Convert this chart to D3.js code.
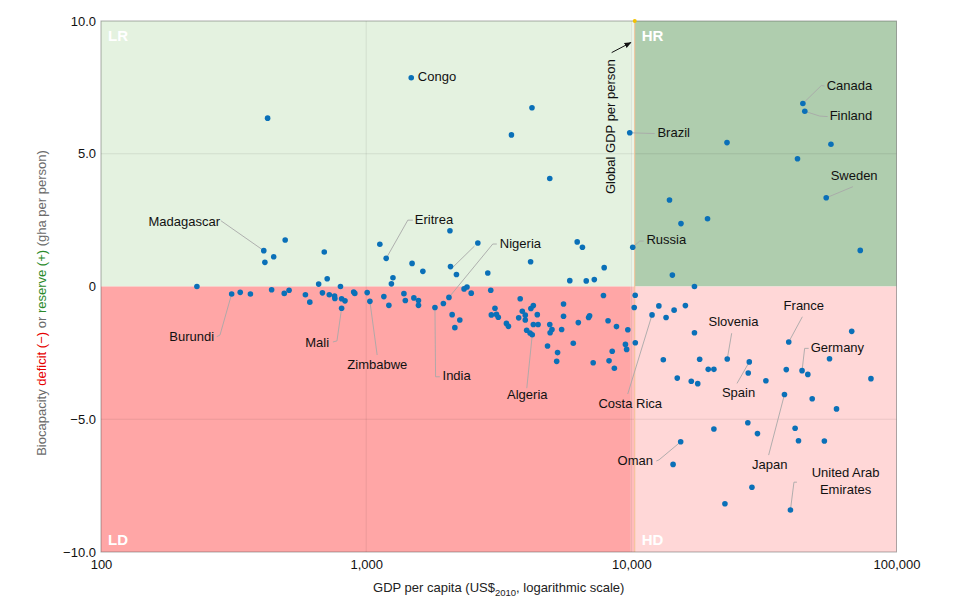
<!DOCTYPE html>
<html><head><meta charset="utf-8">
<script src="https://cdn.jsdelivr.net/npm/d3@7"></script>
<style>
body{margin:0;background:#fff}
svg{display:block}
text{font-family:"Liberation Sans",Arial,Helvetica,sans-serif}
</style>
</head><body>
<svg id="c" width="964" height="610"></svg>
<script>
// ---------- data ----------
const gdp = [1479,425,411,415,448,495,695,713,662,800,1126,1190,1490,1262,1245,230,1636,2070,2080,2190,2637,2875,4220,3530,4925,4170,6250,6540,7900,5860,6760,7250,2340,2400,9862,10122,
22950,44350,45100,56600,42330,54320,13930,15390,19380,73000,14280,17300,
311,335,366,440,491,512,590,613,684,726,760,762,808,832,808,897,906,1009,1033,1166,1218,1388,1405,1513,1575,1575,1817,1955,2052,2110,2255,2160,2490,2950,3060,2965,3100,3150,3380,3440,3810,3880,3760,3981,3981,4180,4270,4420,4030,4150,4230,4270,4450,4925,5020,4940,4830,5270,5230,5550,5550,5460,6040,6310,6900,6960,7180,7850,8170,8790,8470,8240,8630,9700,9500,9600,10350,10340,10255,
12700,11970,13520,14500,15990,17300,23000,13200,18100,19500,20480,14900,16830,17800,27850,27600,32170,39230,38400,44040,46300,55900,67780,80100,37800,48100,59400,27500,29900,20480,41460,42700,53450,15350,14370,28500,22540,39811];
const biocap = [7.86,6.34,1.35,0.91,1.12,1.75,1.30,0.29,0.09,0.00,1.59,1.06,0.87,0.33,0.10,0.00,0.57,2.10,0.75,0.45,1.64,0.51,6.73,5.71,4.07,0.93,1.68,1.48,0.71,0.22,0.21,0.26,-0.09,-0.02,5.79,1.48,
5.42,6.89,6.60,5.36,4.81,3.34,3.26,2.37,2.55,1.36,0.43,0.00,
-0.28,-0.22,-0.28,-0.12,-0.26,-0.14,-0.31,-0.59,-0.24,-0.31,-0.36,-0.45,-0.46,-0.54,-0.82,-0.21,-0.26,-0.23,-0.56,-0.38,-0.71,-0.27,-0.53,-0.43,-0.53,-0.71,-0.79,-0.64,-0.41,-1.06,-1.26,-1.55,-0.25,-0.14,-0.82,-1.07,-1.05,-1.16,-1.39,-1.50,-0.46,-0.93,-1.18,-1.08,-1.26,-0.83,-0.72,-1.06,-1.65,-1.75,-1.82,-1.43,-1.43,-1.43,-1.62,-1.74,-2.24,-2.49,-2.82,-0.66,-1.12,-1.62,-2.14,-1.36,-1.17,-1.10,-2.87,-0.34,-1.29,-1.51,-2.44,-2.80,-3.08,-1.63,-2.18,-2.37,-2.12,-0.33,-0.79,
-0.73,-1.07,-1.17,-0.89,-0.72,-1.74,-2.73,-2.76,-2.74,-3.12,-3.12,-3.45,-3.57,-3.66,-2.84,-3.26,-3.55,-2.09,-3.13,-3.17,-3.31,-2.72,-1.69,-3.47,-4.07,-4.23,-4.61,-5.13,-5.54,-5.37,-5.34,-5.81,-5.82,-5.85,-6.70,-7.56,-8.18,-8.42];

const globalGDP = 10300;
const xTicks = [100,1000,10000,100000];
const xTickLabels = ["100","1,000","10,000","100,000"];
const yTicks = [-10,-5,0,5,10];
const yTickLabels = ["\u221210.0","\u22125.0","0","5.0","10.0"];
const regionNames = ["LR","HR","LD","HD"];

// country labels: text position (data units), anchor, leader path (data units)
const labels = [
  {t:["Congo"], x:1566, y:7.85, a:"start", path:[]},
  {t:["Madagascar"], x:281, y:2.40, a:"end", path:[[283,2.48],[411,1.35]]},
  {t:["Eritrea"], x:1526, y:2.47, a:"start", path:[[1500,2.50],[1436,2.50],[1190,1.06]]},
  {t:["Nigeria"], x:3192, y:1.57, a:"start", path:[[3109,1.60],[3002,1.60],[2052,-0.41]]},
  {t:["Brazil"], x:12544, y:5.73, a:"start", path:[[12252,5.76],[9862,5.79]]},
  {t:["Russia"], x:11400, y:1.71, a:"start", path:[[11135,1.71],[10757,1.71],[10122,1.48]]},
  {t:["Canada"], x:54520, y:7.53, a:"start", path:[[53580,7.55],[52070,7.57],[44350,6.89]]},
  {t:["Finland"], x:55950, y:6.40, a:"start", path:[[55000,6.40],[51310,6.42],[45100,6.60]]},
  {t:["Sweden"], x:56440, y:4.11, a:"start", path:[[68500,3.76],[54320,3.34]]},
  {t:["Burundi"], x:267, y:-1.93, a:"end", path:[[273,-1.89],[281,-1.83],[311,-0.28]]},
  {t:["Mali"], x:725, y:-2.17, a:"end", path:[[749,-2.09],[776,-2.05],[808,-0.82]]},
  {t:["Zimbabwe"], x:1102, y:-2.99, a:"middle", path:[[1100,-2.58],[1033,-0.56]]},
  {t:["India"], x:1941, y:-3.40, a:"start", path:[[1896,-3.40],[1827,-3.40],[1817,-0.79]]},
  {t:["Algeria"], x:4052, y:-4.11, a:"middle", path:[[4034,-3.83],[4230,-1.82]]},
  {t:["Costa Rica"], x:9906, y:-4.46, a:"middle", path:[[9692,-4.05],[11970,-1.07]]},
  {t:["Slovenia"], x:24280, y:-1.39, a:"middle", path:[[23900,-1.76],[23000,-2.73]]},
  {t:["France"], x:44730, y:-0.76, a:"middle", path:[[44150,-1.14],[39230,-2.09]]},
  {t:["Germany"], x:47450, y:-2.35, a:"start", path:[[46640,-2.33],[45040,-2.33],[44040,-3.17]]},
  {t:["Spain"], x:25360, y:-4.06, a:"middle", path:[[25030,-3.65],[27850,-2.84]]},
  {t:["Japan"], x:33240, y:-6.75, a:"middle", path:[[32950,-6.35],[37800,-4.07]]},
  {t:["Oman"], x:12070, y:-6.60, a:"end", path:[[12430,-6.57],[12720,-6.53],[15350,-5.85]]},
  {t:["United Arab","Emirates"], x:64280, y:-7.07, a:"middle", path:[[42120,-7.37],[41050,-7.37],[39811,-8.42]]},
  {t:[], x:0, y:0, a:"start", path:[[2110,0.70],[2560,1.52]]}
];
const globalLabel = {t:"Global GDP per person", x:8414, y:6.02, arrow:[[8430,8.81],[9960,9.19]]};

// ---------- drawing ----------
const svg = d3.select("#c");
const x = d3.scaleLog().domain([100,100000]).range([101,896.5]);
const y = d3.scaleLinear().domain([-10,10]).range([552,21]);
const [x0,x1] = x.domain(), [y0,y1] = y.domain();

const regions = [
  {n:"LR", xa:x0, xb:globalGDP, ya:0, yb:y1, fill:"#e4f2e0"},
  {n:"HR", xa:globalGDP, xb:x1, ya:0, yb:y1, fill:"#afcdae"},
  {n:"LD", xa:x0, xb:globalGDP, ya:y0, yb:0, fill:"#ffa6a6"},
  {n:"HD", xa:globalGDP, xb:x1, ya:y0, yb:0, fill:"#ffd7d7"}
];
svg.append("g").selectAll("rect").data(regions).join("rect")
  .attr("x", d=>x(d.xa)).attr("y", d=>y(d.yb))
  .attr("width", d=>x(d.xb)-x(d.xa)).attr("height", d=>y(d.ya)-y(d.yb))
  .attr("fill", d=>d.fill);

// light band just left of global GDP line
svg.append("rect").attr("x", x(globalGDP)-4.5).attr("y", y(y1))
  .attr("width", 4.5).attr("height", y(y0)-y(y1))
  .attr("fill","#fff").attr("opacity",0.25);

// gridlines
const grid = svg.append("g").attr("stroke","rgba(0,0,0,0.08)").attr("stroke-width",1);
[5,-5].forEach(v=>grid.append("line").attr("x1",x(x0)).attr("x2",x(x1)).attr("y1",y(v)).attr("y2",y(v)));
[1000,10000].forEach(v=>grid.append("line").attr("x1",x(v)).attr("x2",x(v)).attr("y1",y(y0)).attr("y2",y(y1)));

// global GDP line
svg.append("line").attr("x1",x(globalGDP)).attr("x2",x(globalGDP))
  .attr("y1",y(y0)).attr("y2",y(y1)).attr("stroke","#f3bf92").attr("stroke-width",1);

// border
svg.append("rect").attr("x",x(x0)).attr("y",y(y1))
  .attr("width",x(x1)-x(x0)).attr("height",y(y0)-y(y1))
  .attr("fill","none").attr("stroke","rgba(70,70,70,0.45)").attr("stroke-width",1);

svg.append("circle").attr("cx",x(globalGDP)).attr("cy",y(y1)).attr("r",2).attr("fill","#f2c200");

// region labels
const rl = {LR:[x0,y1,1], HR:[globalGDP,y1,1], LD:[x0,y0,-1], HD:[globalGDP,y0,-1]};
svg.append("g").selectAll("text").data(regionNames).join("text")
  .attr("x", d=>x(rl[d][0])+7)
  .attr("y", d=>y(rl[d][1]) + (rl[d][2]>0 ? 16 : -11))
  .attr("dominant-baseline","middle")
  .attr("font-size",15).attr("font-weight","bold").attr("fill","#fff")
  .text(d=>d);

// axes
const yAxis = svg.append("g").attr("transform",`translate(${x(x0)},0)`)
  .call(d3.axisLeft(y).tickValues(yTicks).tickSize(0).tickPadding(5)
    .tickFormat((d,i)=>yTickLabels[i]));
yAxis.select(".domain").remove();
yAxis.selectAll("text").attr("font-size",13).attr("fill","#111")
  .attr("font-family",'"Liberation Sans",Arial,sans-serif');

const xAxis = svg.append("g").attr("transform",`translate(0,${y(y0)})`)
  .call(d3.axisBottom(x).tickValues(xTicks).tickSize(0).tickPadding(8)
    .tickFormat((d,i)=>xTickLabels[i]));
xAxis.select(".domain").remove();
xAxis.selectAll("text").attr("font-size",13).attr("fill","#111")
  .attr("font-family",'"Liberation Sans",Arial,sans-serif');

// axis titles
const xt = svg.append("text").attr("x",(x(x0)+x(x1))/2).attr("y",592)
  .attr("text-anchor","middle").attr("font-size",13).attr("fill","#222");
xt.append("tspan").text("GDP per capita (US$");
xt.append("tspan").attr("font-size",9.5).attr("dy",4).text("2010");
xt.append("tspan").attr("dy",-4).text(", logarithmic scale)");

const yt = svg.append("text").attr("transform","translate(46,303) rotate(-90)")
  .attr("text-anchor","middle").attr("font-size",13).attr("fill","#6b6b6b");
yt.append("tspan").text("Biocapacity ");
yt.append("tspan").attr("fill","#e60000").text("deficit (\u2212)");
yt.append("tspan").text(" or ");
yt.append("tspan").attr("fill","#2a8a2a").text("reserve (+)");
yt.append("tspan").text(" (gha per person)");

// leader lines
const line = d3.line().x(d=>x(d[0])).y(d=>y(d[1]));
svg.append("g").attr("fill","none").attr("stroke","#a8a8a8").attr("stroke-width",0.9)
  .selectAll("path").data(labels.filter(d=>d.path.length)).join("path")
  .attr("d", d=>line(d.path));

// points
const pts = gdp.map((g,i)=>({g, b:biocap[i]}));
svg.append("g").selectAll("circle").data(pts).join("circle")
  .attr("cx", d=>x(d.g)).attr("cy", d=>y(d.b)).attr("r",2.8).attr("fill","#0a70b8");

// country labels
const lg = svg.append("g").attr("font-size",13).attr("fill","#111");
labels.filter(d=>d.t.length).forEach(d=>{
  const t = lg.append("text").attr("x",x(d.x)).attr("y",y(d.y))
    .attr("text-anchor",d.a).attr("dominant-baseline","middle");
  d.t.forEach((s,i)=>t.append("tspan").attr("x",x(d.x)).attr("dy", i? 16.4 : 0).text(s));
});

// global GDP label + arrow
svg.append("defs").append("marker").attr("id","ah").attr("viewBox","0 0 10 10")
  .attr("refX",9).attr("refY",5).attr("markerWidth",7).attr("markerHeight",7)
  .attr("orient","auto").append("path").attr("d","M0,1 L10,5 L0,9 z").attr("fill","#111");
svg.append("line")
  .attr("x1",x(globalLabel.arrow[0][0])).attr("y1",y(globalLabel.arrow[0][1]))
  .attr("x2",x(globalLabel.arrow[1][0])).attr("y2",y(globalLabel.arrow[1][1]))
  .attr("stroke","#111").attr("stroke-width",1).attr("marker-end","url(#ah)");
svg.append("text").attr("transform",`translate(${x(globalLabel.x)},${y(globalLabel.y)}) rotate(-90)`)
  .attr("text-anchor","middle").attr("dominant-baseline","middle")
  .attr("font-size",13).attr("fill","#111").text(globalLabel.t);
</script>
</body></html>
